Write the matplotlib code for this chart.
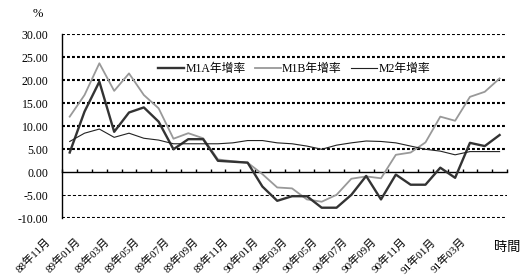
import matplotlib
matplotlib.use('Agg')
import matplotlib.pyplot as plt
import matplotlib.transforms as mtransforms
import numpy as np

plt.rcParams['font.family'] = ['Liberation Serif', 'Noto Sans CJK TC', 'DejaVu Sans']

# 88年11月 ~ 91年04月, monthly
months = ['88年11月', '88年12月',
          '89年01月', '89年02月', '89年03月', '89年04月', '89年05月', '89年06月',
          '89年07月', '89年08月', '89年09月', '89年10月', '89年11月', '89年12月',
          '90年01月', '90年02月', '90年03月', '90年04月', '90年05月', '90年06月',
          '90年07月', '90年08月', '90年09月', '90年10月', '90年11月', '90年12月',
          '91年01月', '91年02月', '91年03月', '91年04月']
m1a = [4.3, 13.2, 19.7, 8.8, 13.0, 14.1, 11.0, 5.0, 7.2, 7.2,
       2.5, 2.3, 2.1, -3.1, -6.2, -5.2, -5.2, -7.7, -7.7, -4.9,
       -0.8, -5.9, -0.5, -2.7, -2.7, 1.0, -1.2, 6.4, 5.7, 8.1]
m1b = [12.1, 16.8, 23.7, 17.7, 21.5, 16.8, 13.9, 7.3, 8.5, 7.4,
       2.8, 2.4, 2.1, -0.4, -3.3, -3.5, -5.9, -6.4, -4.9, -1.4,
       -0.9, -1.3, 3.8, 4.3, 6.5, 12.1, 11.2, 16.4, 17.5, 20.4]
m2 = [6.7, 8.5, 9.4, 7.6, 8.5, 7.4, 7.0, 6.2, 6.2, 6.2,
      6.2, 6.4, 6.9, 6.9, 6.4, 6.2, 5.7, 5.0, 5.9, 6.4,
      6.8, 6.7, 6.4, 5.7, 5.0, 4.6, 3.8, 4.5, 4.5, 4.5]
yticks = [-10, -5, 0, 5, 10, 15, 20, 25, 30]

fig = plt.figure(figsize=(5.32, 2.80), dpi=100)
ax = fig.add_axes([0.1171, 0.2204, 0.8359, 0.6571])

x = np.arange(len(months))

# gridlines (thick dotted, -5 thin dashed)
for v in yticks:
    if v == 0:
        continue
    if v == -5:
        ax.axhline(v, color='black', lw=0.75, ls=(0, (3, 2)), zorder=1)
    else:
        ax.axhline(v, color='black', lw=1.5, ls=(0, (1.4, 1.0)), zorder=1)

ax.plot(x, m1a, color='#333333', lw=1.7, label='M1A年增率', zorder=4)
ax.plot(x, m1b, color='#999999', lw=1.3, label='M1B年增率', zorder=3)
ax.plot(x, m2, color='#222222', lw=0.8, label='M2年增率', zorder=5)

ax.set_xlim(-0.5, len(months) - 0.5)
ax.set_ylim(-10, 30)

# y axis
ax.set_yticks(yticks)
ax.set_yticklabels(['%.2f' % v for v in yticks], fontsize=8.5)
ax.tick_params(axis='y', length=0, pad=10)
ax.spines['top'].set_visible(False)
ax.spines['right'].set_visible(False)
ax.spines['left'].set_linewidth(1.0)

# category axis sits on zero, ticks at category boundaries pointing up
ax.spines['bottom'].set_position(('data', 0))
ax.spines['bottom'].set_linewidth(1.0)
ax.set_xticks(np.arange(len(months) + 1) - 0.5)
ax.set_xticklabels([])
ax.tick_params(axis='x', direction='in', length=2.5, width=1.0)

# labels at the bottom of the plot area
sec = ax.secondary_xaxis(0.0)
sec.spines['bottom'].set_visible(False)
sec.set_xticks(x[::2])
sec.set_xticklabels(months[::2], fontsize=8, rotation=45, ha='right', va='top')
sec.tick_params(axis='x', length=0, pad=13)
shift = mtransforms.ScaledTranslation(-17 / 100, 0, fig.dpi_scale_trans)
for lab in sec.get_xticklabels():
    lab.set_transform(lab.get_transform() + shift)

ax.legend(loc='center', bbox_to_anchor=(0.521, 0.809), ncol=3, frameon=False,
          fontsize=8.5, handlelength=2.2, handletextpad=0.1, columnspacing=0.8,
          borderpad=0.2)

fig.text(38 / 532, 1 - 14 / 280, '%', fontsize=9, ha='center', va='center')
fig.text(507 / 532, 1 - 248 / 280, '時間', fontsize=9.5, ha='center', va='center')

fig.savefig('out.png', dpi=100)
